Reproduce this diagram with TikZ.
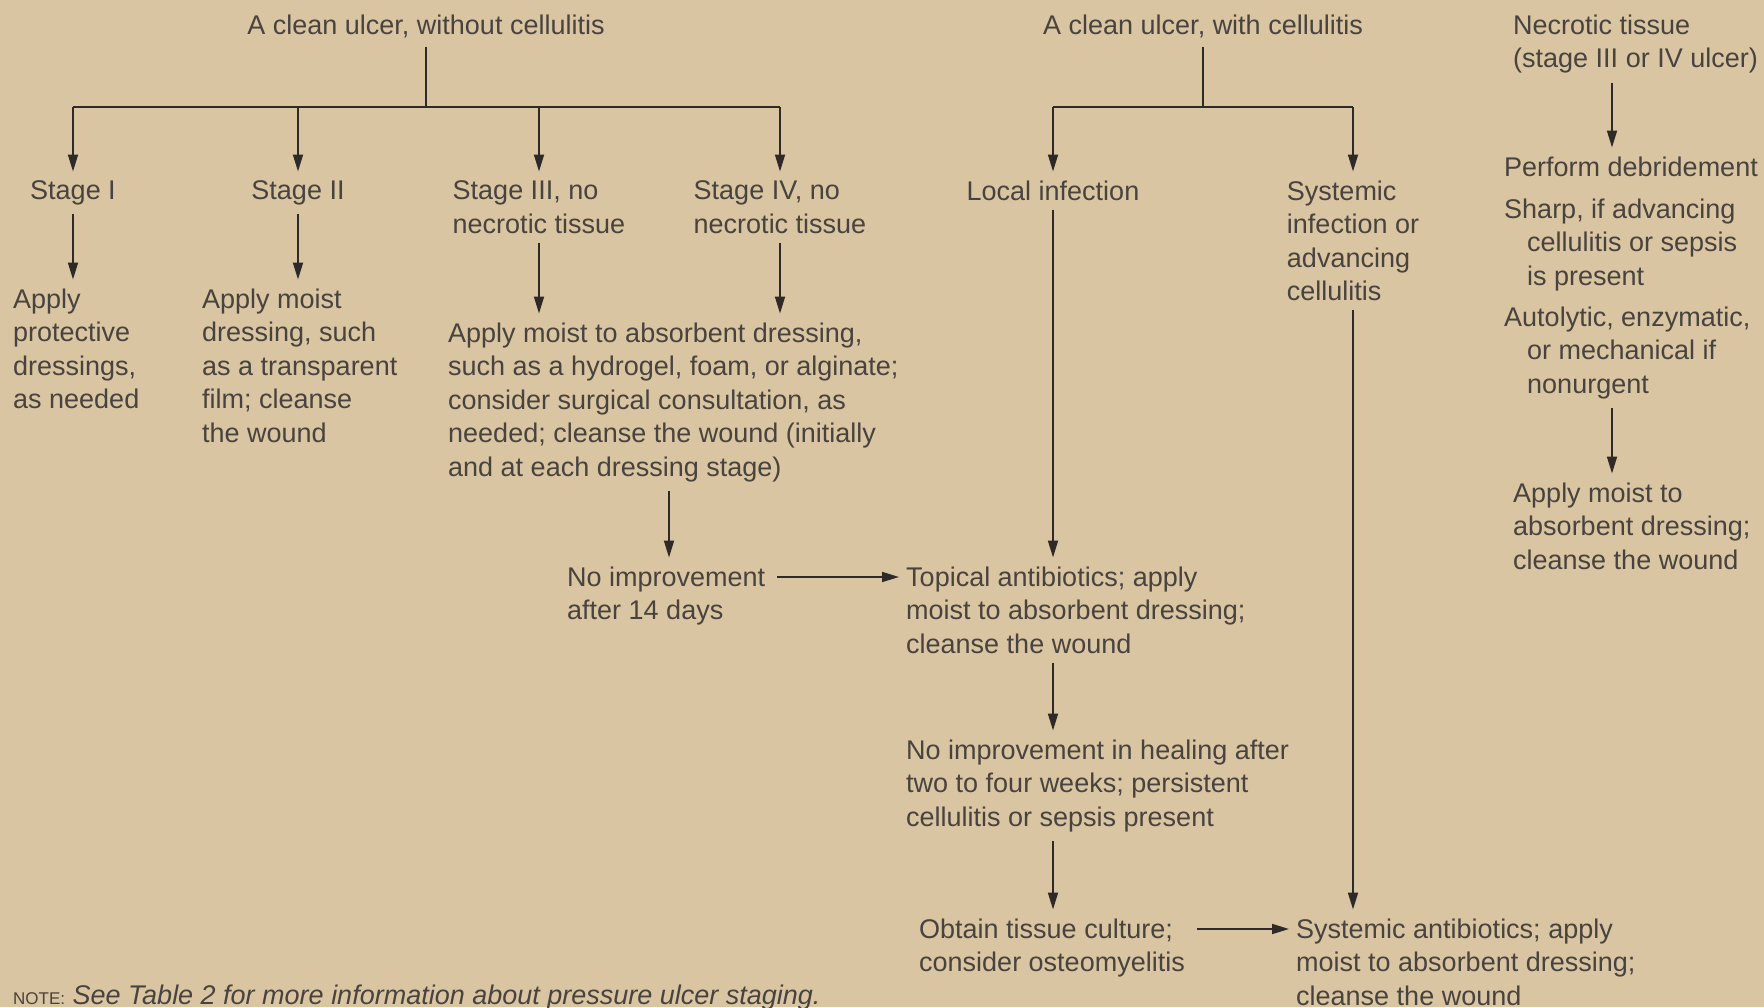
\documentclass[tikz,border=0pt]{standalone}
\usepackage{fontspec}
\setmainfont{Liberation Sans}
\usetikzlibrary{arrows.meta}
\definecolor{bg}{RGB}{217,197,161}
\definecolor{ink}{RGB}{72,67,62}
\definecolor{lineclr}{RGB}{45,42,40}
\begin{document}
\begin{tikzpicture}[x=1pt,y=-1pt,
  txt/.style={inner xsep=0pt,inner ysep=9pt,font=\fontsize{27}{33.5}\selectfont,text=ink,align=left},
  arr/.style={draw=lineclr,line width=1.8pt,-{Triangle[length=17pt,width=10pt]}},
  bar/.style={draw=lineclr,line width=2.5pt},
  harr/.style={arr,shorten <=12pt,shorten >=7pt}]
\fill[bg] (0,0) rectangle (1764,1007);
\useasboundingbox (0,0) rectangle (1764,1007);

% top row
\node[txt,anchor=north] (t1) at (426,5.5) {A clean ulcer, without cellulitis};
\node[txt,anchor=north] (t2) at (1203,5.5) {A clean ulcer, with cellulitis};
\node[txt,anchor=north west] (t3) at (1513,5.5) {Necrotic tissue\\(stage III or IV ulcer)};

% stages
\node[txt,anchor=north] (s1) at (73,171.5) {Stage I};
\node[txt,anchor=north] (s2) at (298,171.5) {Stage II};
\node[txt,anchor=north] (s3) at (539,171.5) {Stage III, no\\necrotic tissue};
\node[txt,anchor=north] (s4) at (780,171.5) {Stage IV, no\\necrotic tissue};
\node[txt,anchor=north] (l1) at (1053,171.5) {Local infection};
\node[txt,anchor=north] (sy) at (1353,171.5) {Systemic\\infection or\\advancing\\cellulitis};

% actions
\node[txt,anchor=north west] (a1) at (13,279.5) {Apply\\protective\\dressings,\\as needed};
\node[txt,anchor=north west] (a2) at (202,279.5) {Apply moist\\dressing, such\\as a transparent\\film; cleanse\\the wound};
\node[txt,anchor=north west] (a3) at (448,313.5) {Apply moist to absorbent dressing,\\such as a hydrogel, foam, or alginate;\\consider surgical consultation, as\\needed; cleanse the wound (initially\\and at each dressing stage)};
\node[txt,anchor=north west] (n14) at (567,557.5) {No improvement\\after 14 days};
\node[txt,anchor=north west] (top) at (906,557.5) {Topical antibiotics; apply\\moist to absorbent dressing;\\cleanse the wound};
\node[txt,anchor=north west] (ni) at (906,730.5) {No improvement in healing after\\two to four weeks; persistent\\cellulitis or sepsis present};
\node[txt,anchor=north west] (ot) at (919,909.5) {Obtain tissue culture;\\consider osteomyelitis};
\node[txt,anchor=north west] (sa) at (1296,909.5) {Systemic antibiotics; apply\\moist to absorbent dressing;\\cleanse the wound};

% necrotic column
\node[txt,anchor=north west] (pd) at (1504,147.5) {Perform debridement};
\node[txt,anchor=north west,inner ysep=0pt] (sh) at (1504,198.5) {Sharp, if advancing\\\hspace*{23pt}cellulitis or sepsis\\\hspace*{23pt}is present};
\node[txt,anchor=north west] (au) at (1504,297.5) {Autolytic, enzymatic,\\\hspace*{23pt}or mechanical if\\\hspace*{23pt}nonurgent};
\node[txt,anchor=north west] (am) at (1513,473.5) {Apply moist to\\absorbent dressing;\\cleanse the wound};

% note
\node[txt,anchor=north west] (note) at (13,975.5) {{\fontsize{17}{20}\selectfont NOTE:} \textit{See Table 2 for more information about pressure ulcer staging.}};

% connectors: left tree
\coordinate (j1) at (426,107);
\draw[bar] (t1) -- (j1);
\draw[bar] (s1 |- j1) -- (s4 |- j1);
\foreach \n in {s1,s2,s3,s4} \draw[arr] (\n |- j1) -- (\n);
\draw[arr] (s1) -- (s1 |- a1.north);
\draw[arr] (s2) -- (s2 |- a2.north);
\draw[arr] (s3) -- (s3 |- a3.north);
\draw[arr] (s4) -- (s4 |- a3.north);
\coordinate (c14) at (669,0);
\draw[arr] (a3.south -| c14) -- (n14.north -| c14);
\coordinate (r1) at (0,577);
\draw[harr] (n14.east |- r1) -- (top.west |- r1);

% middle tree
\coordinate (j2) at (1203,107);
\draw[bar] (t2) -- (j2);
\draw[bar] (l1 |- j2) -- (sy |- j2);
\draw[arr] (l1 |- j2) -- (l1);
\draw[arr] (sy |- j2) -- (sy);
\draw[arr] (l1) -- (l1 |- top.north);
\draw[arr] (top.south -| l1) -- (ni.north -| l1);
\draw[arr] (ni.south -| l1) -- (ot.north -| l1);
\draw[arr] (sy) -- (sy |- sa.north);
\coordinate (r2) at (0,929);
\draw[harr] (ot.east |- r2) -- (sa.west |- r2);

% necrotic column
\coordinate (c3) at (1612,0);
\draw[arr] (t3.south -| c3) -- (pd.north -| c3);
\draw[arr] (au.south -| c3) -- (am.north -| c3);
\end{tikzpicture}
\end{document}
